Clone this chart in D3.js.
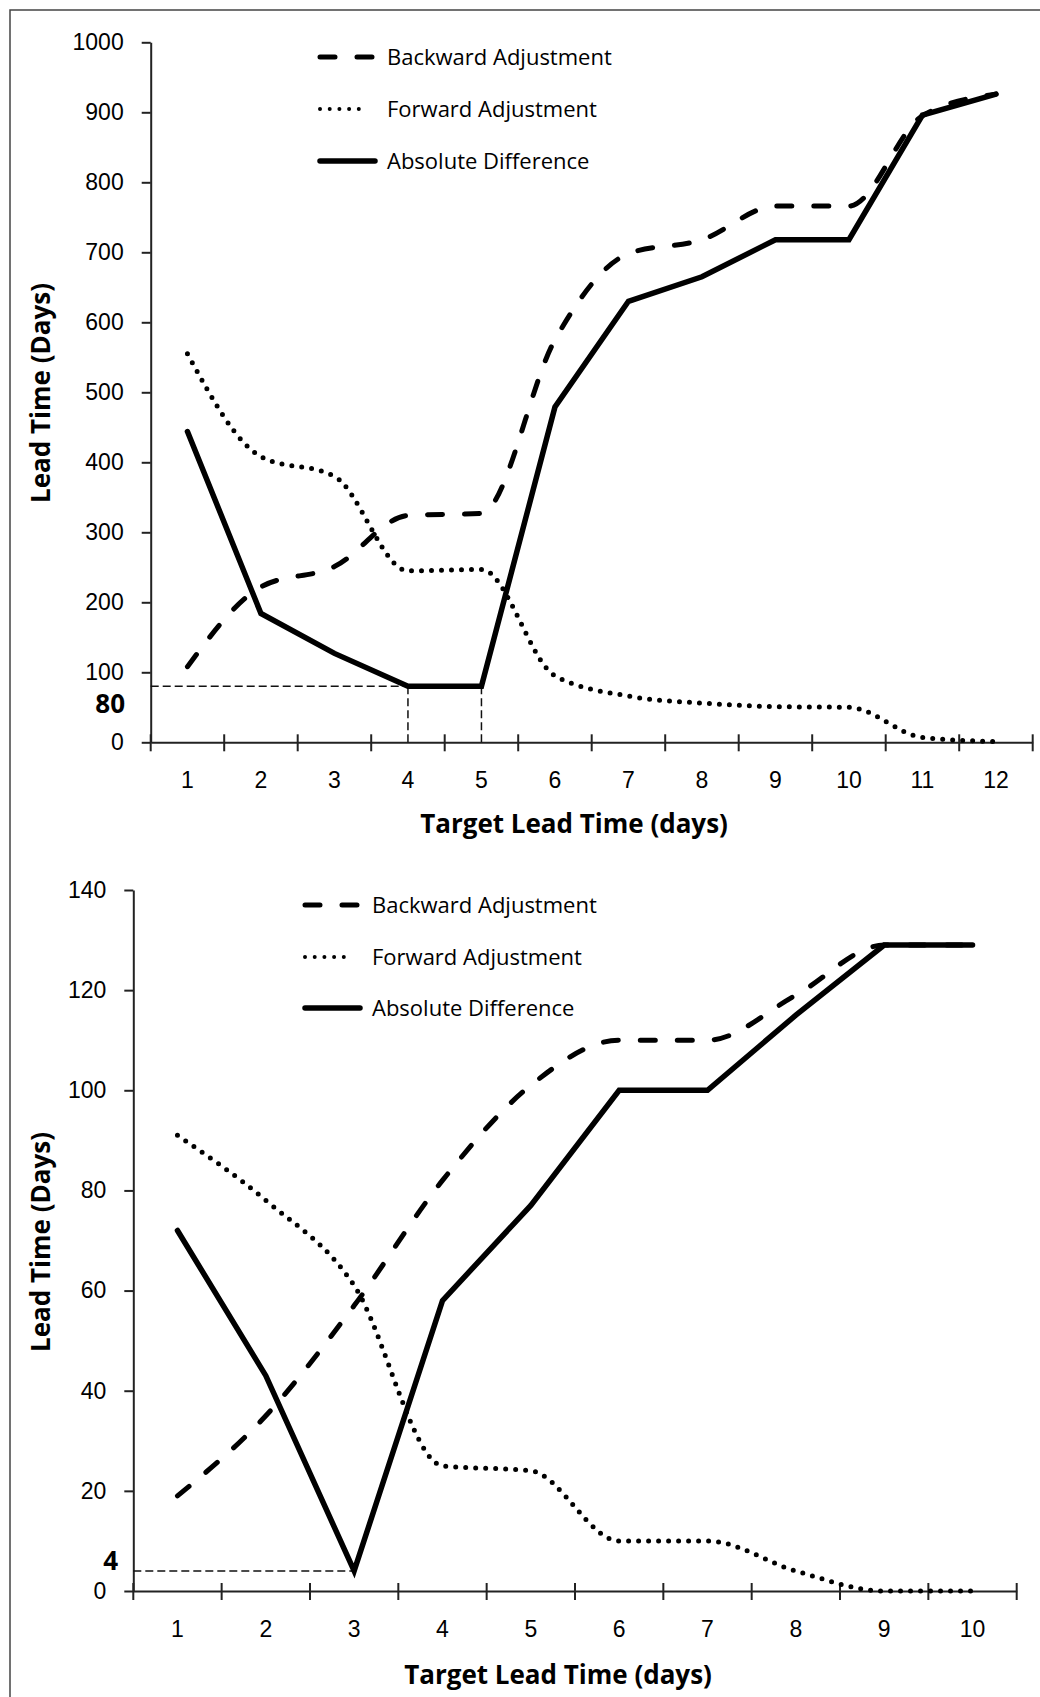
<!DOCTYPE html>
<html>
<head>
<meta charset="utf-8">
<script src="https://cdn.jsdelivr.net/npm/d3@7"></script>
<style>
    body { margin: 0; background: #fff; }
    svg { display: block; font-family: "Open Sans", "Noto Sans", sans-serif; }
</style>
</head>
<body>
<svg id="chart" width="1040" height="1697"></svg>
<script>
// ---- data ----
const seriesNames = ["Backward Adjustment", "Forward Adjustment", "Absolute Difference"];

// upper panel
const daysTop = [1, 2, 3, 4, 5, 6, 7, 8, 9, 10, 11, 12];
const backwardTop = [108, 222, 251, 324, 327, 575, 698, 718, 766, 766, 895, 926];
const forwardTop = [555, 408, 380, 245, 247, 95, 66, 56, 51, 50, 7, 1];
const absDiffTop = [444, 184, 127, 80, 80, 479, 630, 665, 718, 718, 896, 926];
const yTicksTop = [0, 100, 200, 300, 400, 500, 600, 700, 800, 900, 1000];
const markValueTop = 80;
const markDaysTop = [4, 5];

// lower panel
const daysBottom = [1, 2, 3, 4, 5, 6, 7, 8, 9, 10];
const backwardBottom = [19, 35, 57, 82, 101, 110, 110, 119, 129, 129];
const forwardBottom = [91, 78, 61, 25, 24, 10, 10, 4, 0, 0];
const absDiffBottom = [72, 43, 4, 58, 77, 100, 100, 115, 129, 129];
const yTicksBottom = [0, 20, 40, 60, 80, 100, 120, 140];
const markValueBottom = 4;
const markDaysBottom = [3];

const svg = d3.select("#chart");

// outer frame (only left and top edges show in the picture)
svg.append("path")
    .attr("d", "M10,1697 L10,10 L1040,10")
    .attr("fill", "none")
    .attr("stroke", "#444")
    .attr("stroke-width", 1.5);

// line styles
const styles = [
    { dash: "15 22", width: 5, cap: "round", curve: d3.curveMonotoneX },   // backward
    { dash: "0 10", width: 5, cap: "round", curve: d3.curveMonotoneX },    // forward
    { dash: null, width: 5.5, cap: "round", curve: d3.curveLinear }        // absolute
];

function drawPanel(cfg) {
    const g = svg.append("g");

    const x = d3.scaleBand()
        .domain(cfg.days)
        .range([cfg.left, cfg.right]);

    const y = d3.scaleLinear()
        .domain([0, cfg.yMax])
        .range([cfg.bottom, cfg.top]);

    const cx = d => x(d) + x.bandwidth() / 2;

    // y axis
    const yAxis = g.append("g")
        .attr("transform", `translate(${cfg.left},0)`)
        .call(d3.axisLeft(y)
            .tickValues(cfg.yTicks)
            .tickFormat(d3.format("d"))
            .tickSize(9).tickSizeOuter(0).tickPadding(18));
    yAxis.select(".domain").attr("stroke", "#222").attr("stroke-width", 2);
    yAxis.selectAll(".tick line").attr("stroke", "#222").attr("stroke-width", 2);
    yAxis.selectAll(".tick text")
        .attr("fill", "#000")
        .style("font-size", "23px");

    // x axis: labels from the band scale, crossing tick marks on the band edges
    const xAxis = g.append("g")
        .attr("transform", `translate(0,${cfg.bottom})`)
        .call(d3.axisBottom(x).tickSize(0).tickSizeOuter(0).tickPadding(cfg.xPad));
    xAxis.select(".domain").attr("stroke", "#222").attr("stroke-width", 2);
    xAxis.selectAll(".tick text")
        .attr("fill", "#000")
        .style("font-size", "23px");

    xAxis.selectAll(".edge")
        .data(d3.range(cfg.days.length + 1))
        .enter()
        .append("line")
        .attr("class", "edge")
        .attr("x1", i => cfg.left + i * x.step())
        .attr("x2", i => cfg.left + i * x.step())
        .attr("y1", -8)
        .attr("y2", 9)
        .attr("stroke", "#222")
        .attr("stroke-width", 2);

    // dashed guide lines to the minimum
    const lastMark = cfg.markDays[0];
    g.append("line")
        .attr("x1", cfg.left)
        .attr("x2", cx(lastMark))
        .attr("y1", y(cfg.markValue))
        .attr("y2", y(cfg.markValue))
        .attr("stroke", "#111")
        .attr("stroke-width", 1.5)
        .attr("stroke-dasharray", "8 4");

    if (cfg.markDays.length > 1) {
        g.selectAll(".drop")
            .data(cfg.markDays)
            .enter()
            .append("line")
            .attr("x1", d => cx(d))
            .attr("x2", d => cx(d))
            .attr("y1", y(cfg.markValue))
            .attr("y2", y(0))
            .attr("stroke", "#111")
            .attr("stroke-width", 1.5)
            .attr("stroke-dasharray", "8 4");
    }

    g.append("text")
        .attr("x", cfg.markLabelX)
        .attr("y", cfg.markLabelY)
        .attr("text-anchor", "end")
        .style("font-size", "26px")
        .style("font-weight", "bold")
        .attr("fill", "#000")
        .text(cfg.markValue);

    // series
    cfg.series.forEach((values, k) => {
        const st = styles[k];
        const line = d3.line()
            .x((d, i) => cx(cfg.days[i]))
            .y(d => y(d))
            .curve(st.curve);

        g.append("path")
            .datum(values)
            .attr("fill", "none")
            .attr("stroke", "#000")
            .attr("stroke-width", st.width)
            .attr("stroke-linecap", st.cap)
            .attr("stroke-linejoin", "miter")
            .attr("stroke-dasharray", st.dash)
            .attr("d", line);
    });

    // legend
    const legend = g.append("g");
    seriesNames.forEach((name, k) => {
        const st = styles[k];
        const ly = cfg.legendRows[k];
        legend.append("line")
            .attr("x1", cfg.legendX + 2)
            .attr("x2", k === 1 ? cfg.legendX + 50 : cfg.legendX + 57)
            .attr("y1", ly)
            .attr("y2", ly)
            .attr("stroke", "#000")
            .attr("stroke-width", k === 1 ? 4 : st.width)
            .attr("stroke-linecap", "round")
            .attr("stroke-dasharray", k === 1 ? "0 9.7" : st.dash);
        legend.append("text")
            .attr("x", cfg.legendX + 69)
            .attr("y", ly)
            .attr("dy", "0.35em")
            .style("font-size", "22px")
            .attr("fill", "#000")
            .text(name);
    });

    // axis titles
    g.append("text")
        .attr("transform", `translate(50,${cfg.yTitleY}) rotate(-90)`)
        .attr("text-anchor", "middle")
        .style("font-size", "26px")
        .style("font-weight", "bold")
        .attr("fill", "#000")
        .text("Lead Time (Days)");

    g.append("text")
        .attr("x", cfg.xTitleX)
        .attr("y", cfg.xTitleY)
        .attr("text-anchor", "middle")
        .style("font-size", "26px")
        .style("font-weight", "bold")
        .attr("fill", "#000")
        .text("Target Lead Time (days)");
}

drawPanel({
    days: daysTop,
    series: [backwardTop, forwardTop, absDiffTop],
    yMax: 1000,
    yTicks: yTicksTop,
    left: 150.7, right: 1032.7, top: 42.3, bottom: 742.3,
    xPad: 29,
    markValue: markValueTop, markDays: markDaysTop,
    markLabelX: 125, markLabelY: 713,
    legendX: 318, legendRows: [57, 109, 161],
    yTitleY: 393,
    xTitleX: 574, xTitleY: 833
});

drawPanel({
    days: daysBottom,
    series: [backwardBottom, forwardBottom, absDiffBottom],
    yMax: 140,
    yTicks: yTicksBottom,
    left: 133.3, right: 1016.7, top: 890, bottom: 1591,
    xPad: 30,
    markValue: markValueBottom, markDays: markDaysBottom,
    markLabelX: 118, markLabelY: 1570,
    legendX: 303, legendRows: [905, 957, 1008],
    yTitleY: 1242,
    xTitleX: 558, xTitleY: 1684
});
</script>
</body>
</html>
